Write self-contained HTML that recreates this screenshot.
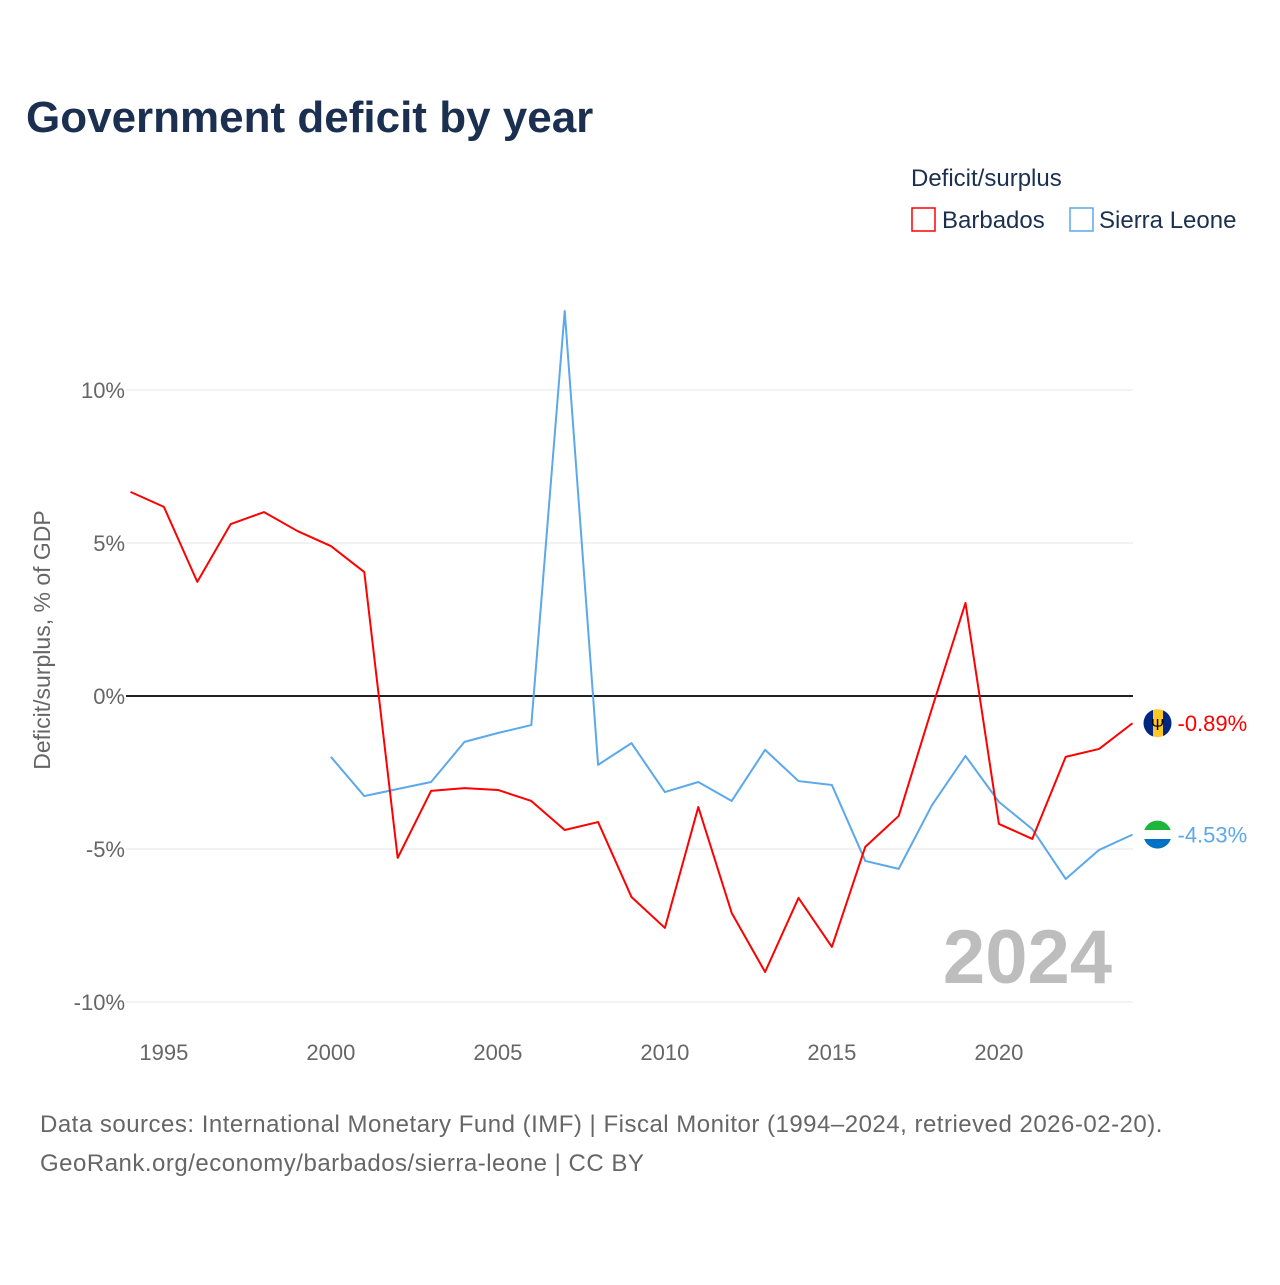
<!DOCTYPE html>
<html><head><meta charset="utf-8"><style>
body{margin:0;background:#fff;font-family:"Liberation Sans",sans-serif}
</style></head><body>
<svg id="c" width="1280" height="1280" xmlns="http://www.w3.org/2000/svg">
<defs>
<clipPath id="cb"><circle cx="1157.5" cy="723.2" r="14"/></clipPath>
<clipPath id="cs"><circle cx="1157.5" cy="834.6" r="14"/></clipPath>
</defs>
<rect width="1280" height="1280" fill="#fff"/>
<text x="26" y="132" font-size="44" font-weight="bold" fill="#1b3050">Government deficit by year</text>
<text x="911" y="186" font-size="24" fill="#1b3050">Deficit/surplus</text>
<g><rect x="912" y="208" width="23" height="23" fill="none" stroke="#ff0000" stroke-width="1.5"/><text x="942" y="228" font-size="24" fill="#1b3050">Barbados</text></g>
<g><rect x="1070" y="208" width="23" height="23" fill="none" stroke="#5ba8ea" stroke-width="1.5"/><text x="1099" y="228" font-size="24" fill="#1b3050">Sierra Leone</text></g>
<g id="grid"></g><g id="yt"></g><g id="xt"></g><g id="lines"></g>
<g clip-path="url(#cb)">
<rect x="1143" y="709" width="10" height="29" fill="#00267f"/><rect x="1153" y="709" width="10" height="29" fill="#ffc726"/><rect x="1163" y="709" width="10" height="29" fill="#00267f"/>
<text x="1157.5" y="730" font-size="16" text-anchor="middle" fill="#000">Ψ</text></g>
<g clip-path="url(#cs)">
<rect x="1143" y="820" width="30" height="10" fill="#1eb53a"/><rect x="1143" y="830" width="30" height="9" fill="#fff"/><rect x="1143" y="839" width="30" height="10" fill="#0072c6"/></g>
<text x="1112" y="983" font-size="76" font-weight="bold" fill="#bdbdbd" text-anchor="end">2024</text>
<text transform="translate(50,640) rotate(-90)" font-size="23" fill="#666" text-anchor="middle">Deficit/surplus, % of GDP</text>
<text x="40" y="1132" font-size="24" fill="#666" letter-spacing="0.5">Data sources: International Monetary Fund (IMF) | Fiscal Monitor (1994–2024, retrieved 2026-02-20).</text>
<text x="40" y="1171" font-size="24" fill="#666" letter-spacing="0.5">GeoRank.org/economy/barbados/sierra-leone | CC BY</text>
</svg>
<script>
const yTicks=[10,5,0,-5,-10];
const xTicks=[1995,2000,2005,2010,2015,2020];
const barbadosYears=[1994,1995,1996,1997,1998,1999,2000,2001,2002,2003,2004,2005,2006,2007,2008,2009,2010,2011,2012,2013,2014,2015,2016,2017,2018,2019,2020,2021,2022,2023,2024];
const barbados=[6.67,6.18,3.73,5.62,6.01,5.39,4.90,4.05,-5.29,-3.10,-3.01,-3.07,-3.43,-4.38,-4.12,-6.57,-7.58,-3.63,-7.09,-9.02,-6.60,-8.20,-4.93,-3.92,-0.39,3.04,-4.18,-4.67,-1.99,-1.73,-0.89];
const sierraYears=[2000,2001,2002,2003,2004,2005,2006,2007,2008,2009,2010,2011,2012,2013,2014,2015,2016,2017,2018,2019,2020,2021,2022,2023,2024];
const sierra=[-1.99,-3.27,-3.04,-2.81,-1.50,-1.21,-0.95,12.58,-2.25,-1.54,-3.14,-2.81,-3.43,-1.76,-2.78,-2.91,-5.39,-5.65,-3.56,-1.96,-3.46,-4.35,-5.98,-5.03,-4.53];
const NS="http://www.w3.org/2000/svg";
const X=y=>130.5+(y-1994)*33.4;
const Y=v=>696-v*30.6;
function mk(t,a,p){const e=document.createElementNS(NS,t);for(const k in a)e.setAttribute(k,a[k]);document.getElementById(p).appendChild(e);return e;}
yTicks.forEach(v=>{
 const l=mk('line',{x1:126,x2:1133,y1:Y(v),y2:Y(v),stroke:v===0?'#222':'#e6e6e6','stroke-width':v===0?2:1},'grid');
 
 
 const t=mk('text',{x:125,y:Y(v)+8,'font-size':22,fill:'#666','text-anchor':'end'},'yt');
 t.textContent=v+'%';
 
 
});
xTicks.forEach(y=>{
 const t=mk('text',{x:X(y),y:1060,'font-size':22,fill:'#666','text-anchor':'middle'},'xt');
 t.textContent=y;
 
 
});
function series(ys,vs,col,name){
 const p=mk('polyline',{points:ys.map((y,i)=>X(y)+','+Y(vs[i])).join(' '),fill:'none',stroke:col,'stroke-width':2,'stroke-linejoin':'round'},'lines');
 
 
 const lx=X(ys[ys.length-1]),ly=Y(vs[vs.length-1]);
 const t=mk('text',{x:lx+45,y:ly+8,'font-size':22,fill:col},'lines');
 t.textContent=vs[vs.length-1].toFixed(2)+'%';
 
 
}
series(sierraYears,sierra,'#5ba8ea','sierra-leone');
series(barbadosYears,barbados,'#ff0000','barbados');
</script>
</body></html>
